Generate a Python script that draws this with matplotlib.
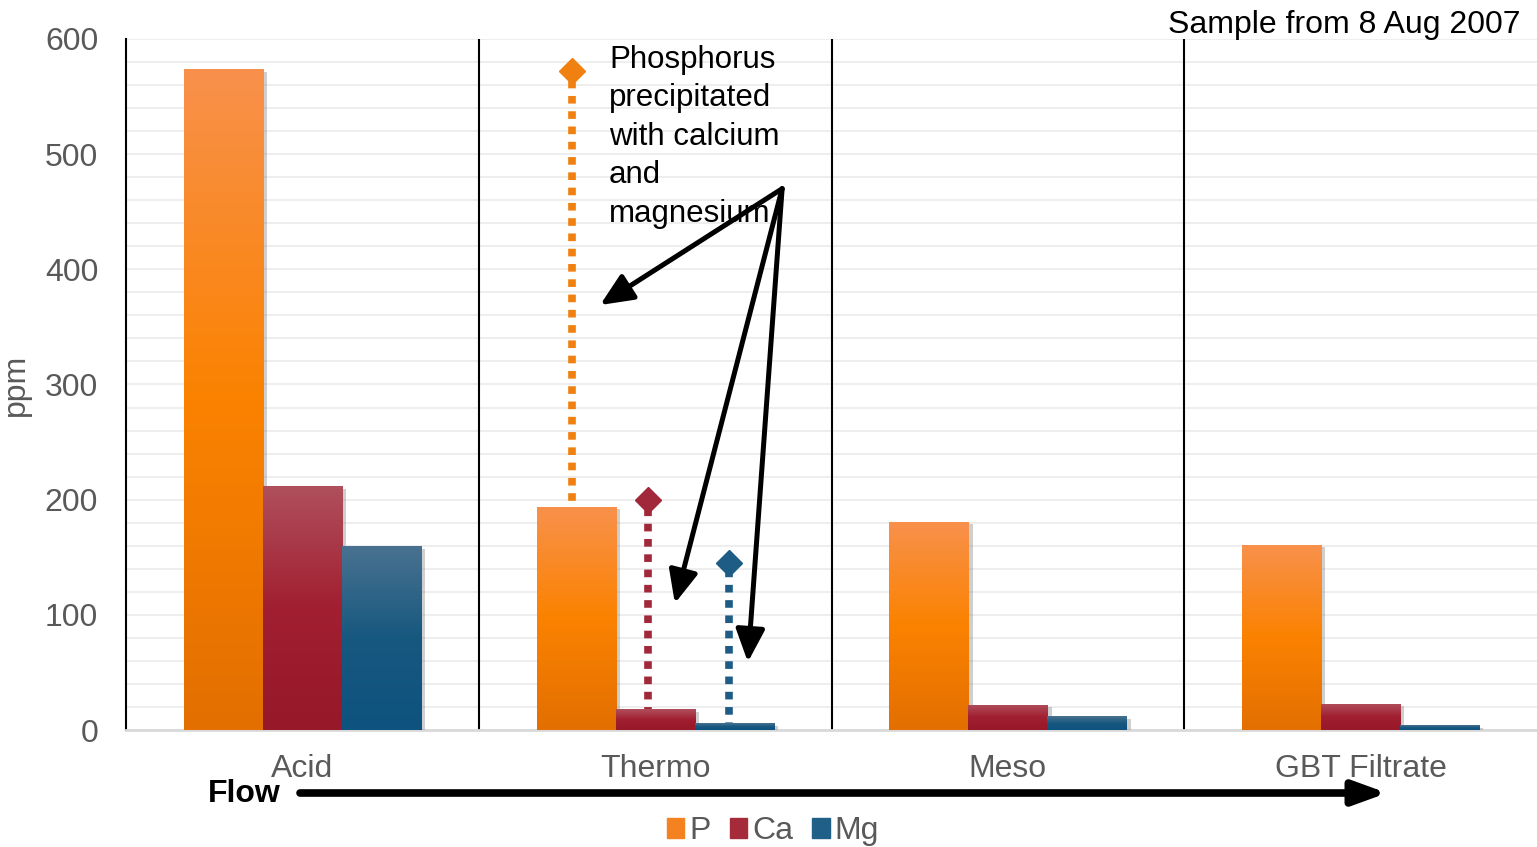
import numpy as np
import matplotlib
matplotlib.use('Agg')
import matplotlib.pyplot as plt
import matplotlib.patheffects as pe
from matplotlib.colors import LinearSegmentedColormap
from matplotlib.patches import Patch

plt.rcParams['font.family'] = ['Liberation Sans', 'DejaVu Sans']

# data
categories = ['Acid', 'Thermo', 'Meso', 'GBT Filtrate']
series = ['P', 'Ca', 'Mg']
p_vals = [574, 194, 181, 161]
ca_vals = [212, 18, 22, 23]
mg_vals = [160, 6, 12, 4]
# diamonds over Thermo (level before precipitation)
marker_vals = [572, 200, 145]

# gradients, bottom -> middle -> top
grads = {
    'P': ['#E36F00', '#FB8200', '#F8914C'],
    'Ca': ['#961829', '#A11F30', '#B0505D'],
    'Mg': ['#0E527F', '#17587F', '#4A7291'],
}
solid = {'P': '#F58220', 'Ca': '#A52A3A', 'Mg': '#1F5F88'}
dots = {'P': '#F08010', 'Ca': '#A0283A', 'Mg': '#1E5C85'}
grey = '#595959'

fig = plt.figure(figsize=(15.37, 8.47), dpi=100)
ax = fig.add_axes([126/1537, 117/847, 1 - 126/1537, 691/847])

x = np.arange(len(categories))
w = 0.224
vals = [p_vals, ca_vals, mg_vals]


def gradient_fill(bar, stops):
    x0, y0 = bar.get_x(), bar.get_y()
    bw, bh = bar.get_width(), bar.get_height()
    cmap = LinearSegmentedColormap.from_list('g', stops)
    grad = np.linspace(0, 1, 256)[:, None]
    im = ax.imshow(grad, cmap=cmap, extent=(x0, x0 + bw, y0, y0 + bh),
                   origin='lower', aspect='auto', zorder=3.1)
    im.set_clip_path(bar)


for i, (name, v) in enumerate(zip(series, vals)):
    bars = ax.bar(x + (i - 1) * w, v, width=w, color=solid[name], zorder=3,
                  linewidth=0)
    for b in bars:
        b.set_path_effects([pe.SimplePatchShadow(offset=(3, -2), shadow_rgbFace='#777777',
                                                 alpha=0.35), pe.Normal()])
        gradient_fill(b, grads[name])

# dotted drop lines with diamonds on Thermo
mx = 1 + np.array([-0.235, -0.02, 0.21])
for xi, v, name in zip(mx, marker_vals, series):
    ax.vlines(xi, 0, v, colors=dots[name], linestyles=(0, (1, 1)), linewidth=5.5,
              zorder=2.5)
    ax.plot(xi, v, marker='D', markersize=13, color=dots[name], zorder=5,
            linestyle='none')

# grid and separators
ax.set_ylim(0, 600)
ax.set_xlim(-0.5, 3.5)
ax.set_yticks(np.arange(0, 601, 100))
ax.set_yticks(np.arange(0, 601, 20), minor=True)
ax.grid(axis='y', which='both', color='#EBEBEB', linewidth=1.2, zorder=0)
ax.set_axisbelow(True)
ax.vlines(np.arange(0.5, 3.5, 1), 0, 600, colors='black', linewidth=1.5, zorder=1)

for s in ['top', 'right']:
    ax.spines[s].set_visible(False)
ax.spines['left'].set_color('black')
ax.spines['left'].set_linewidth(1.5)
ax.spines['bottom'].set_color('#D9D9D9')
ax.spines['bottom'].set_linewidth(2)

ax.set_xticks(x)
ax.set_xticklabels(categories)
ax.tick_params(axis='both', which='both', length=0, colors=grey, labelsize=23)
ax.tick_params(axis='y', pad=20, labelsize=23)
ax.tick_params(axis='x', pad=17)
ax.set_ylabel('ppm', color=grey, fontsize=23)
ax.yaxis.set_label_coords(-0.067, 0.5)

# annotation
ax.text(0.869, 595, 'Phosphorus\nprecipitated\nwith calcium\nand\nmagnesium',
        fontsize=22.5, va='top', ha='left', linespacing=1.37, zorder=6)
arrow_kw = dict(arrowstyle='-|>,head_length=0.9,head_width=0.4', color='black',
                lw=3.6, mutation_scale=22, shrinkA=0, shrinkB=0)
for tx, ty in [(0.844, 369), (1.056, 110), (1.263, 59)]:
    ax.annotate('', xy=(tx, ty), xytext=(1.36, 470), arrowprops=arrow_kw, zorder=6)

fig.text(1521/1537, 1 - 25/847, 'Sample from 8 Aug 2007', fontsize=23,
         ha='right', va='center')

# flow arrow
fig.text(244/1537, 1 - 794/847, 'Flow', fontsize=23, fontweight='bold',
         ha='center', va='center')
ax.annotate('', xy=(1387/1537, 1 - 793/847), xytext=(300/1537, 1 - 793/847),
            xycoords='figure fraction', textcoords='figure fraction',
            arrowprops=dict(arrowstyle='-|>,head_length=1.1,head_width=0.4',
                            color='black', lw=5.5, mutation_scale=18,
                            shrinkA=0, shrinkB=0))

handles = [Patch(color=solid[s], label=s) for s in series]
fig.legend(handles=handles, loc='center', bbox_to_anchor=(773/1537, 1 - 831/847),
           ncol=3, frameon=False, fontsize=23, handlelength=0.55, handleheight=0.6,
           handletextpad=0.15, columnspacing=0.6, labelcolor=grey)

fig.savefig('out.png', dpi=100)
